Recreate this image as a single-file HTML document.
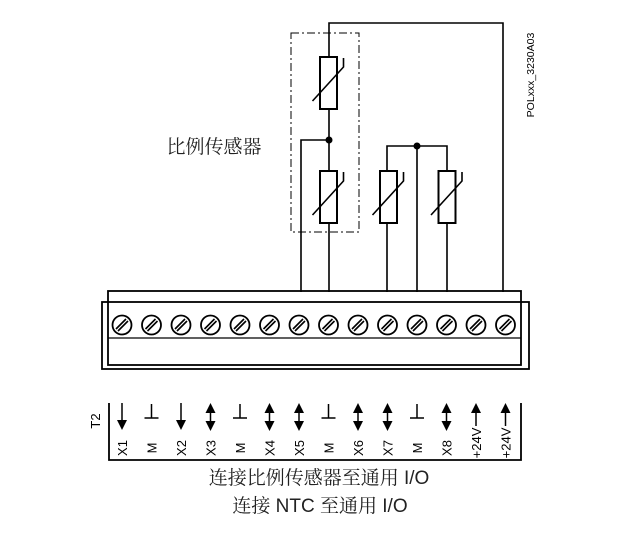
<!DOCTYPE html>
<html><head><meta charset="utf-8"><style>
html,body{margin:0;padding:0;background:#fff;}
svg{display:block}
</style></head><body>
<svg width="632" height="554" viewBox="0 0 632 554" xmlns="http://www.w3.org/2000/svg">
<defs>
<g id="res">
<rect x="-8.5" y="0" width="17" height="52" fill="#fff" stroke="#000" stroke-width="2"/>
<path d="M-16 44 L15 10 L15 1" fill="none" stroke="#000" stroke-width="1.6"/>
</g>
<g id="scr">
<circle r="9.5" fill="#fff" stroke="#000" stroke-width="1.8"/>
<path d="M-6 4 L4 -6 M-4 6 L6 -4" stroke="#000" stroke-width="1.6"/>
</g>
</defs>
<g fill="none" stroke="#000" stroke-width="1.6">
<path d="M329 57 V23 H503 V292"/>
<path d="M329 109 V171 M329 222 V292"/>
<path d="M329 140 H301 V292"/>
<path d="M387 171 V146 H447 V171 M417 146 V292 M387 222 V292 M447 222 V292"/>
<rect x="291" y="33" width="68" height="199" stroke-width="1" stroke-dasharray="8,3,2,3"/>
<rect x="108" y="291" width="413" height="74" stroke-width="1.8"/>
<rect x="102" y="302" width="427" height="67" stroke-width="1.8"/>
<line x1="108" y1="338" x2="521" y2="338" stroke-width="1.2"/>
<path d="M109 403 V460 H521 V403" stroke-width="1.8"/>
</g>
<use href="#res" x="328.5" y="57"/>
<use href="#res" x="328.5" y="171"/>
<use href="#res" x="388.5" y="171"/>
<use href="#res" x="447" y="171"/>
<circle cx="329" cy="140" r="3.5"/>
<circle cx="417" cy="146" r="3.5"/>
<g>
<use href="#scr" x="122" y="325"/><use href="#scr" x="151.5" y="325"/><use href="#scr" x="181" y="325"/><use href="#scr" x="210.5" y="325"/><use href="#scr" x="240" y="325"/><use href="#scr" x="269.5" y="325"/><use href="#scr" x="299" y="325"/><use href="#scr" x="328.5" y="325"/><use href="#scr" x="358" y="325"/><use href="#scr" x="387.5" y="325"/><use href="#scr" x="417" y="325"/><use href="#scr" x="446.5" y="325"/><use href="#scr" x="476" y="325"/><use href="#scr" x="505.5" y="325"/>
</g>
<g stroke="#000" stroke-width="1.5" fill="#000">
<g transform="translate(122,0)"><line x1="0" y1="403" x2="0" y2="422"/><path d="M-5 420 L5 420 L0 430Z" stroke="none"/></g>
<g transform="translate(181,0)"><line x1="0" y1="403" x2="0" y2="422"/><path d="M-5 420 L5 420 L0 430Z" stroke="none"/></g>
<g transform="translate(151.5,0)"><path d="M0 404 V418 M-7 418 H7" fill="none"/></g>
<g transform="translate(240,0)"><path d="M0 404 V418 M-7 418 H7" fill="none"/></g>
<g transform="translate(328.5,0)"><path d="M0 404 V418 M-7 418 H7" fill="none"/></g>
<g transform="translate(417,0)"><path d="M0 404 V418 M-7 418 H7" fill="none"/></g>
<g transform="translate(210.5,0)"><line x1="0" y1="410" x2="0" y2="424"/><path d="M-5 413 L5 413 L0 403Z M-5 421 L5 421 L0 431Z" stroke="none"/></g>
<g transform="translate(269.5,0)"><line x1="0" y1="410" x2="0" y2="424"/><path d="M-5 413 L5 413 L0 403Z M-5 421 L5 421 L0 431Z" stroke="none"/></g>
<g transform="translate(299,0)"><line x1="0" y1="410" x2="0" y2="424"/><path d="M-5 413 L5 413 L0 403Z M-5 421 L5 421 L0 431Z" stroke="none"/></g>
<g transform="translate(358,0)"><line x1="0" y1="410" x2="0" y2="424"/><path d="M-5 413 L5 413 L0 403Z M-5 421 L5 421 L0 431Z" stroke="none"/></g>
<g transform="translate(387.5,0)"><line x1="0" y1="410" x2="0" y2="424"/><path d="M-5 413 L5 413 L0 403Z M-5 421 L5 421 L0 431Z" stroke="none"/></g>
<g transform="translate(446.5,0)"><line x1="0" y1="410" x2="0" y2="424"/><path d="M-5 413 L5 413 L0 403Z M-5 421 L5 421 L0 431Z" stroke="none"/></g>
<g transform="translate(476,0)"><line x1="0" y1="410" x2="0" y2="426"/><path d="M-5 413 L5 413 L0 403Z" stroke="none"/></g>
<g transform="translate(505.5,0)"><line x1="0" y1="410" x2="0" y2="426"/><path d="M-5 413 L5 413 L0 403Z" stroke="none"/></g>
</g>
<g font-family="Liberation Sans, sans-serif" font-size="13" fill="#000" text-anchor="middle">
<text transform="translate(127,448) rotate(-90)">X1</text>
<text transform="translate(156.5,448) rotate(-90)">M</text>
<text transform="translate(186,448) rotate(-90)">X2</text>
<text transform="translate(215.5,448) rotate(-90)">X3</text>
<text transform="translate(245,448) rotate(-90)">M</text>
<text transform="translate(274.5,448) rotate(-90)">X4</text>
<text transform="translate(304,448) rotate(-90)">X5</text>
<text transform="translate(333.5,448) rotate(-90)">M</text>
<text transform="translate(363,448) rotate(-90)">X6</text>
<text transform="translate(392.5,448) rotate(-90)">X7</text>
<text transform="translate(422,448) rotate(-90)">M</text>
<text transform="translate(451.5,448) rotate(-90)">X8</text>
<text transform="translate(481,443) rotate(-90)">+24V</text>
<text transform="translate(510.5,443) rotate(-90)">+24V</text>
<text transform="translate(100,421) rotate(-90)">T2</text>
<text transform="translate(534,75) rotate(-90)" font-size="10.5">POLxxx_3230A03</text>
</g>
<g font-family="Liberation Sans, 'Noto Serif CJK SC', serif" fill="#222" text-anchor="middle">
<text x="214" y="153" font-size="19">比例传感器</text>
<text x="319" y="484" font-size="19">连接比例传感器至通用 I/O</text>
<text x="320" y="512" font-size="19">连接 NTC 至通用 I/O</text>
</g>
</svg>
</body></html>
